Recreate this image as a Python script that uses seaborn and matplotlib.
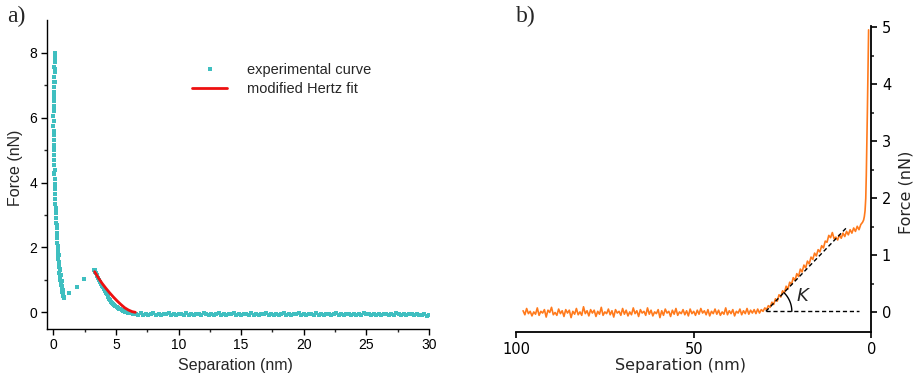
import numpy as np
import pandas as pd
import matplotlib
matplotlib.use("Agg")
import matplotlib.pyplot as plt
import seaborn as sns
from matplotlib.lines import Line2D
from matplotlib.legend_handler import HandlerLine2D

# ==========================
# DATA
# ==========================

# panel a) - experimental approach curve, contact region
contact_sep = [0.13, 0.11, 0.12, 0.09, 0.10, 0.07, 0.08, 0.05, 0.06, 0.03,
               0.04, 0.02, 0.03, 0.01, 0.02, 0.01, 0.03, 0.02, 0.04, 0.03,
               0.06, 0.05, 0.08, 0.07, 0.10, 0.09, 0.12, 0.11, 0.14, 0.13,
               0.17, 0.16, 0.20, 0.19, 0.23, 0.22, 0.27, 0.26, 0.31, 0.30,
               0.35, 0.35, 0.40, 0.39, 0.45, 0.44, 0.50, 0.49, 0.55, 0.56,
               0.61, 0.62, 0.67, 0.68, 0.73, 0.74, 0.78, 0.80, 0.83, 0.86]
contact_force = [8.00, 7.85, 7.70, 7.55, 7.40, 7.25, 7.10, 6.95, 6.80, 6.65,
                 6.50, 6.35, 6.20, 6.05, 5.90, 5.75, 5.60, 5.45, 5.30, 5.15,
                 5.00, 4.85, 4.70, 4.55, 4.40, 4.25, 4.10, 3.95, 3.80, 3.65,
                 3.50, 3.35, 3.20, 3.05, 2.90, 2.75, 2.60, 2.45, 2.30, 2.15,
                 2.00, 1.88, 1.76, 1.64, 1.52, 1.41, 1.30, 1.20, 1.10, 1.01,
                 0.92, 0.84, 0.77, 0.70, 0.64, 0.59, 0.54, 0.50, 0.47, 0.44]

# a second, slightly shifted column of points of the same contact branch
contact2_sep = [0.16, 0.13, 0.10, 0.07, 0.05, 0.03, 0.02, 0.04, 0.06, 0.09,
                0.12, 0.16, 0.21, 0.26, 0.31, 0.37, 0.42, 0.48, 0.54, 0.60,
                0.66, 0.72, 0.77, 0.81]
contact2_force = [7.90, 7.50, 7.10, 6.70, 6.30, 5.90, 5.50, 5.10, 4.70, 4.30,
                  3.90, 3.50, 3.10, 2.70, 2.35, 2.05, 1.78, 1.55, 1.33, 1.14,
                  0.97, 0.82, 0.69, 0.58]

# the few isolated points of the jump
jump_sep = [1.28, 1.86, 2.45]
jump_force = [0.59, 0.79, 1.02]

# points along the Hertz-like part
hertz_sep = [3.25, 3.30, 3.35, 3.40, 3.45, 3.50, 3.58, 3.65, 3.72, 3.80,
             3.88, 3.95, 4.02, 4.10, 4.18, 4.25, 4.33, 4.40, 4.48, 4.56,
             4.64, 4.72, 4.80, 4.88, 4.96, 5.05, 5.15, 5.25, 5.35, 5.45,
             5.55, 5.65, 5.75, 5.85, 5.95, 6.05, 6.15, 6.25, 6.35, 6.45]
hertz_force = [1.31, 1.29, 1.25, 1.20, 1.15, 1.12, 1.05, 1.00, 0.94, 0.88,
               0.82, 0.77, 0.71, 0.65, 0.60, 0.55, 0.50, 0.46, 0.42, 0.37,
               0.33, 0.30, 0.26, 0.23, 0.20, 0.17, 0.14, 0.11, 0.09, 0.06,
               0.04, 0.03, 0.01, 0.00, -0.01, -0.02, -0.03, -0.03, -0.04, -0.05]

# baseline from 6.6 nm to 30 nm, sampled every 0.2 nm
base_sep = np.round(np.linspace(6.6, 30.0, 118), 2)
base_force = [-0.05, -0.08, -0.03, -0.07, -0.04, -0.09, -0.06, -0.02, -0.07, -0.05,
              -0.08, -0.04, -0.06, -0.03, -0.09, -0.05, -0.07, -0.04, -0.06, -0.08,
              -0.03, -0.07, -0.05, -0.09, -0.04, -0.06, -0.08, -0.03, -0.05, -0.07,
              -0.04, -0.08, -0.06, -0.02, -0.07, -0.05, -0.09, -0.04, -0.06, -0.03,
              -0.08, -0.05, -0.07, -0.04, -0.06, -0.09, -0.03, -0.07, -0.05, -0.08,
              -0.04, -0.06, -0.02, -0.08, -0.05, -0.07, -0.04, -0.09, -0.06, -0.03,
              -0.07, -0.05, -0.08, -0.04, -0.06, -0.03, -0.09, -0.05, -0.07, -0.04,
              -0.06, -0.08, -0.03, -0.07, -0.05, -0.09, -0.04, -0.06, -0.08, -0.05,
              -0.03, -0.07, -0.04, -0.08, -0.06, -0.05, -0.09, -0.04, -0.07, -0.06,
              -0.08, -0.03, -0.06, -0.05, -0.09, -0.04, -0.07, -0.05, -0.08, -0.06,
              -0.04, -0.07, -0.05, -0.09, -0.03, -0.06, -0.08, -0.05, -0.07, -0.04,
              -0.06, -0.09, -0.05, -0.07, -0.08, -0.06, -0.10, -0.07]

# modified Hertz fit
fit_sep = [3.30, 3.60, 3.90, 4.20, 4.50, 4.80, 5.10, 5.40, 5.70, 6.00, 6.30, 6.55]
fit_force = [1.25, 1.06, 0.89, 0.74, 0.60, 0.47, 0.35, 0.24, 0.14, 0.07, 0.02, 0.00]

a_xticks = [0, 5, 10, 15, 20, 25, 30]
a_yticks = [0, 2, 4, 6, 8]

# panel b) - trace sampled every 0.5 nm from 98 nm down to 3 nm, then the steep tail
trace_sep_grid = np.round(np.arange(98.0, 2.99, -0.5), 2)
trace_force_grid = [
    0.03, -0.04, 0.07, -0.02, 0.02, -0.06, 0.01, -0.03, 0.08, -0.05,
    0.02, -0.01, 0.05, -0.08, 0.04, 0.00, 0.09, -0.04, 0.00, -0.05,
    0.06, -0.02, 0.03, -0.07, 0.05, -0.01, 0.04, -0.09, 0.02, -0.03,
    0.07, -0.04, 0.01, -0.05, 0.10, -0.02, 0.03, -0.06, 0.05, -0.01,
    0.04, -0.07, 0.02, -0.03, 0.09, -0.05, 0.01, -0.02, 0.06, -0.04,
    0.03, -0.08, 0.05, -0.01, 0.02, -0.05, 0.07, -0.03, 0.04, -0.06,
    0.01, -0.04, 0.08, -0.02, 0.03, -0.07, 0.05, -0.01, 0.02, -0.05,
    0.08, -0.03, 0.04, -0.06, 0.01, -0.02, 0.05, -0.09, 0.03, -0.05,
    0.06, -0.01, 0.02, -0.07, 0.04, -0.03, 0.07, -0.05, 0.01, -0.02,
    0.05, -0.04, 0.03, -0.06, 0.06, -0.02, 0.02, -0.05, 0.04, -0.03,
    0.07, -0.01, 0.03, -0.04, 0.05, -0.06, 0.02, -0.02, 0.06, -0.03,
    0.04, -0.05, 0.01, -0.03, 0.08, -0.04, 0.03, -0.02, 0.05, -0.06,
    0.02, -0.01, 0.06, -0.04, 0.03, -0.02, 0.07, -0.03, 0.04, -0.01,
    0.05, -0.02, 0.06, -0.01,
    # rise, 31 nm -> 3 nm
    0.05, 0.02, 0.08, 0.05, 0.12, 0.09, 0.18, 0.14, 0.24, 0.20,
    0.31, 0.27, 0.38, 0.34, 0.46, 0.41, 0.53, 0.49, 0.61, 0.56,
    0.68, 0.63, 0.76, 0.71, 0.83, 0.78, 0.90, 0.85, 0.97, 0.93,
    1.04, 0.99, 1.10, 1.06, 1.17, 1.13, 1.25, 1.23, 1.35, 1.31,
    1.40, 1.29, 1.32, 1.27, 1.36, 1.30, 1.39, 1.33, 1.42, 1.36,
    1.45, 1.39, 1.48, 1.42, 1.51, 1.45, 1.54]
tail_sep = [2.5, 2.2, 2.0, 1.8, 1.6, 1.45, 1.3, 1.15, 1.0, 0.9, 0.8]
tail_force = [1.58, 1.62, 1.68, 1.78, 2.0, 2.4, 2.9, 3.5, 4.1, 4.6, 4.95]

b_xticks = [0, 50, 100]
b_yticks = [0, 1, 2, 3, 4, 5]

# slope annotation (start and end of the dashed lines)
slope_start = (29.7, 0.02)
slope_end = (7.1, 1.48)
base_end = 3.4

# ==========================
# DATAFRAMES
# ==========================

exp_df = pd.DataFrame({
    "sep": np.concatenate([contact_sep, contact2_sep, jump_sep, hertz_sep, base_sep]),
    "force": np.concatenate([contact_force, contact2_force, jump_force,
                             hertz_force, base_force]),
})
fit_df = pd.DataFrame({"sep": fit_sep, "force": fit_force})
trace_df = pd.DataFrame({
    "sep": np.concatenate([trace_sep_grid, tail_sep]),
    "force": np.concatenate([trace_force_grid, tail_force]),
})

CYAN = "#3fbfc0"
RED = "#ee1010"
ORANGE = "#ff7a1c"

sns.set_style("ticks")
plt.rcParams["font.family"] = ["Liberation Sans", "DejaVu Sans"]

fig = plt.figure(figsize=(9.15, 3.79), dpi=100)
ax_a = fig.add_axes([0.0514, 0.1332, 0.4175, 0.8132])
ax_b = fig.add_axes([0.5639, 0.1243, 0.3885, 0.8074])

# ==========================
# PANEL A
# ==========================

sns.scatterplot(data=exp_df, x="sep", y="force", ax=ax_a, color=CYAN,
                marker="s", s=5.5, linewidth=0, legend=False)
sns.lineplot(data=fit_df, x="sep", y="force", ax=ax_a, color=RED,
             lw=2.0, legend=False)

ax_a.set_xlim(-0.5, 30)
ax_a.set_ylim(-0.5, 9)
ax_a.set_xticks(a_xticks, labels=[str(t) for t in a_xticks], fontsize=10)
ax_a.set_yticks(a_yticks, labels=[str(t) for t in a_yticks], fontsize=10)
ax_a.set_xticks([2.5, 7.5, 12.5, 17.5, 22.5, 27.5], minor=True)
ax_a.set_yticks([1, 3, 5, 7], minor=True)
ax_a.tick_params(which="major", direction="out", length=4, width=1, pad=3,
                 colors="black")
ax_a.tick_params(which="minor", direction="out", length=2.2, width=1)
sns.despine(ax=ax_a)
for sp in ax_a.spines.values():
    sp.set_linewidth(1)
    sp.set_color("black")

ax_a.set_xlabel("Separation (nm)", fontsize=11.5)
ax_a.set_ylabel("Force (nN)", fontsize=11.5)
ax_a.xaxis.set_label_coords(0.493, -0.096)
ax_a.yaxis.set_label_coords(-0.063, 0.521)


class RightMarkerHandler(HandlerLine2D):
    # put the single legend marker at the right end of the handle
    def get_xdata(self, legend, xdescent, ydescent, width, height, fontsize):
        xdata, xdata_marker = super().get_xdata(legend, xdescent, ydescent,
                                                width, height, fontsize)
        return xdata, np.array([-xdescent + 0.96 * width])


h_exp = Line2D([], [], marker="s", markersize=2.2, linestyle="none",
               color=CYAN, markeredgewidth=0)
h_fit = Line2D([], [], color=RED, lw=2.0)
ax_a.legend([h_exp, h_fit], ["experimental curve", "modified Hertz fit"],
            handler_map={h_exp: RightMarkerHandler(numpoints=1)},
            frameon=False, fontsize=10.5, handlelength=2.45, handletextpad=1.35,
            labelspacing=0.35, borderpad=0, borderaxespad=0,
            loc="upper left", bbox_to_anchor=(191.7 / 915, 1 - 63 / 379),
            bbox_transform=fig.transFigure)

# ==========================
# PANEL B
# ==========================

sns.lineplot(data=trace_df, x="sep", y="force", ax=ax_b, color=ORANGE,
             lw=1.2, sort=False, estimator=None, legend=False)

ax_b.plot([slope_start[0], base_end], [slope_start[1], slope_start[1]],
          color="black", lw=1, ls=(0, (3, 2)))
ax_b.plot([slope_start[0], slope_end[0]], [slope_start[1], slope_end[1]],
          color="black", lw=1, ls=(0, (3, 2)))

# angle arc, ~26 px radius on screen
ang = np.linspace(0, np.deg2rad(46), 30)
ax_b.plot(slope_start[0] - 7.3 * np.cos(ang), slope_start[1] + 0.456 * np.sin(ang),
          color="black", lw=1)
ax_b.text(19.4, 0.28, "K", fontsize=13, style="italic", family="DejaVu Sans",
          ha="center", va="center")

ax_b.set_xlim(100, 0)
ax_b.set_ylim(-0.34, 5.02)
ax_b.set_xticks(b_xticks, labels=[str(t) for t in b_xticks], fontsize=10.5,
                family="DejaVu Sans")
ax_b.set_yticks(b_yticks, labels=[str(t) for t in b_yticks], fontsize=10.5,
                family="DejaVu Sans")
ax_b.set_yticks([0.5, 1.5, 2.5, 3.5, 4.5], minor=True)
ax_b.yaxis.tick_right()
ax_b.yaxis.set_label_position("right")
ax_b.tick_params(which="major", direction="out", length=4.5, width=1.2, pad=3,
                 colors="black")
ax_b.tick_params(which="minor", direction="out", length=2.5, width=1.2)
ax_b.spines["left"].set_visible(False)
ax_b.spines["top"].set_visible(False)
for side in ["right", "bottom"]:
    ax_b.spines[side].set_linewidth(1.3)
    ax_b.spines[side].set_color("black")

ax_b.set_xlabel("Separation (nm)", fontsize=11.5, family="DejaVu Sans")
ax_b.set_ylabel("Force (nN)", fontsize=11.5, family="DejaVu Sans")
ax_b.xaxis.set_label_coords(0.464, -0.085)
ax_b.yaxis.set_label_coords(1.077, 0.456)

# panel letters
fig.text(7 / 915, 1 - 6 / 379, "a)", fontsize=17, family="Liberation Serif",
         va="top", ha="left")
fig.text(516 / 915, 1 - 6 / 379, "b)", fontsize=17, family="Liberation Serif",
         va="top", ha="left")

fig.savefig("out.png", dpi=100)
plt.close(fig)
